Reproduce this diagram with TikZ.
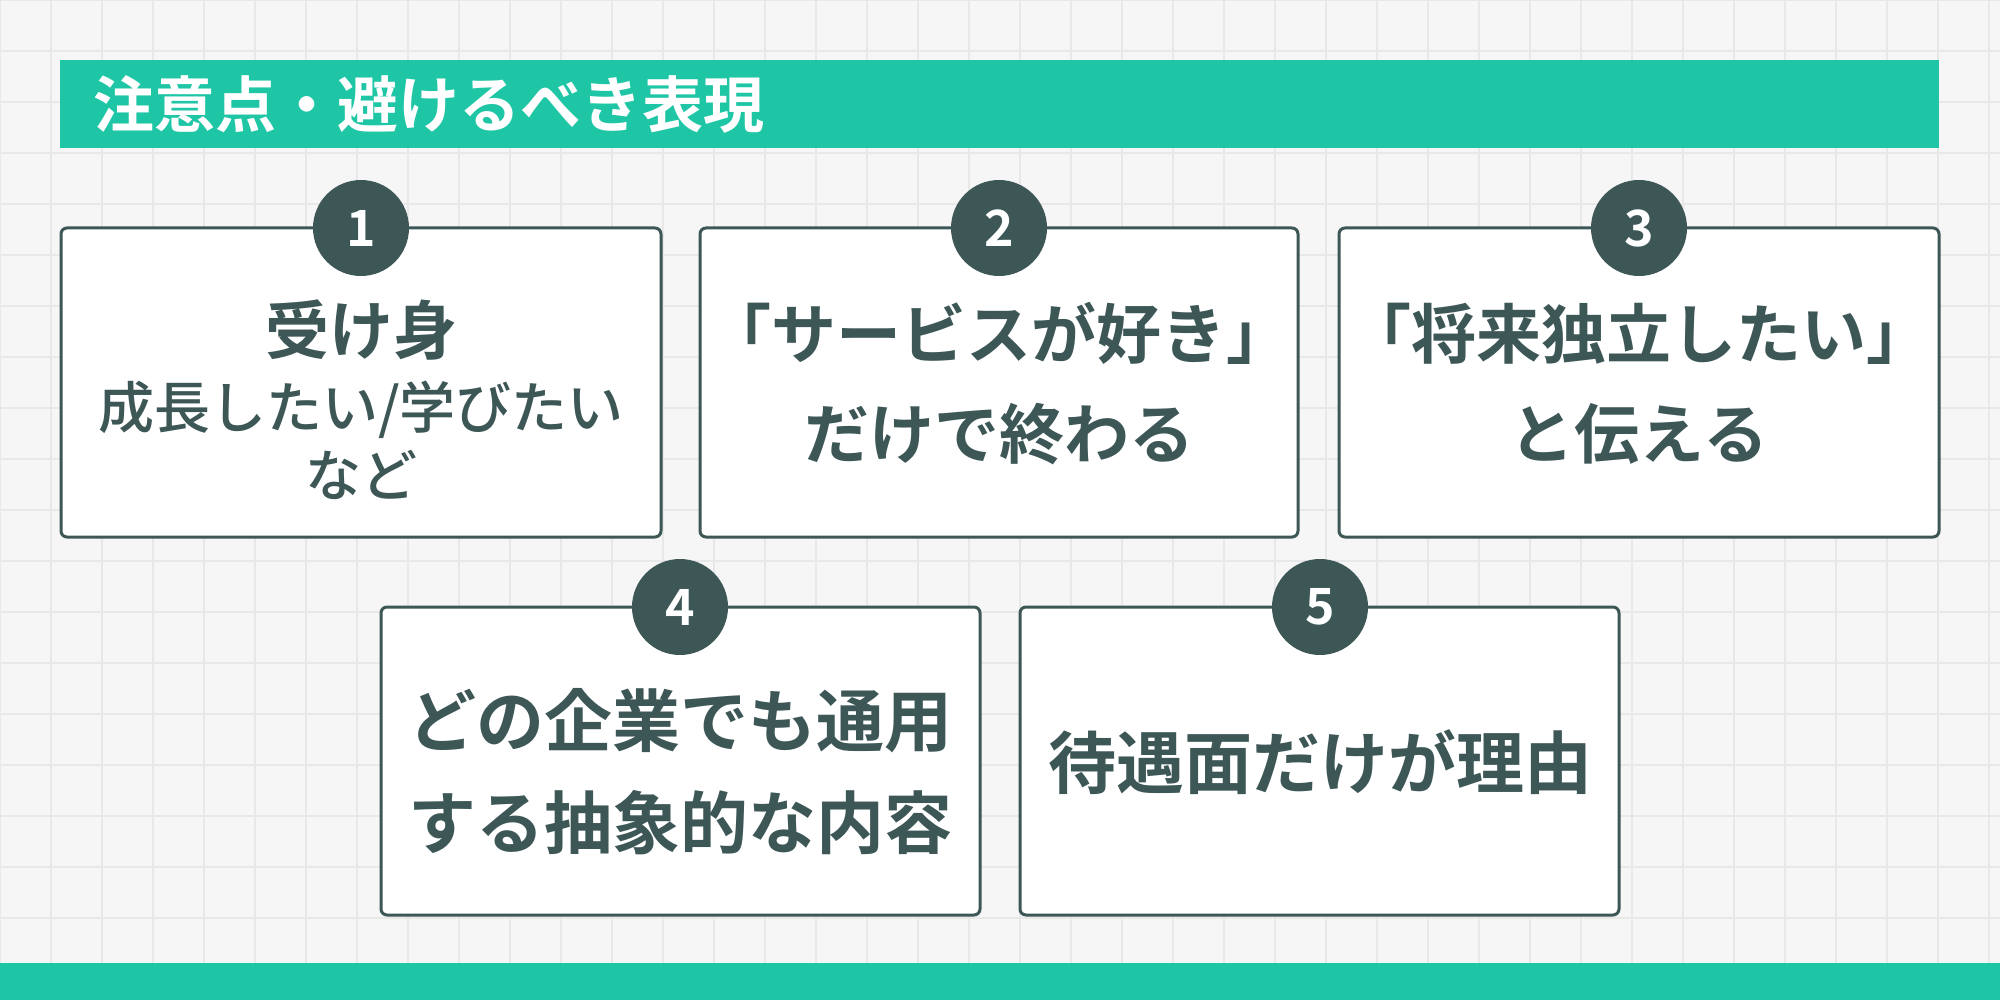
\documentclass[tikz,border=0pt]{standalone}
\usepackage{fontspec}
\newfontfamily\jpb{Noto Sans CJK JP Bold}
\newfontfamily\jpm{Noto Sans CJK JP Medium}
\definecolor{teal}{HTML}{1FC6A6}
\definecolor{slate}{HTML}{3D5656}
\definecolor{bg}{HTML}{F6F6F6}
\definecolor{gridc}{HTML}{E8E8E8}
\begin{document}
\begin{tikzpicture}[x=1pt,y=-1pt,
  card/.style={draw=slate,line width=3pt,rounded corners=6pt,fill=white},
  num/.style={circle,fill=slate,minimum size=96pt,inner sep=0pt,text=white,font=\jpb\fontsize{50}{50}\selectfont},
  txt/.style={text=slate,align=center,font=\jpb\fontsize{65}{100}\selectfont},
  txtl/.style={text=slate,align=center,font=\jpb\fontsize{68}{102}\selectfont}]
\fill[bg] (0,0) rectangle (2000,1000);
\useasboundingbox (0,0) rectangle (2000,1000);
\foreach \i in {0,...,40} {\draw[gridc,line width=1.2pt] (\i*51,0) -- (\i*51,1000);}
\foreach \j in {0,...,20} {\draw[gridc,line width=1.2pt] (0,\j*51) -- (2000,\j*51);}
\fill[teal] (60,60) rectangle (1939,148);
\node[anchor=west,text=white,font=\jpb\fontsize{61}{61}\selectfont] (title) at (90,104) {注意点・避けるべき表現};
\fill[teal] (0,963) rectangle (2000,1000);
\draw[card] (61,228) rectangle (661,537);
\draw[card] (700,228) rectangle (1298,537);
\draw[card] (1339,228) rectangle (1939,537);
\draw[card] (381,607) rectangle (980,915);
\draw[card] (1020,607) rectangle (1619,915);
\node[num] (n1) at (361,228) {1};
\node[num] (n2) at (999,228) {2};
\node[num] (n3) at (1639,228) {3};
\node[num] (n4) at (680,607) {4};
\node[num] (n5) at (1320,607) {5};
\node[text=slate,font=\jpb\fontsize{64}{64}\selectfont] (t1a) at (361,330) {受け身};
\node[text=slate,font=\jpm\fontsize{56}{68}\selectfont,align=center] (t1b) at (361,440) {成長したい/学びたい\\など};
\node[txt] (t2) at (999,384) {「サービスが好き」\\だけで終わる};
\node[txt] (t3) at (1639,384) {「将来独立したい」\\と伝える};
\node[txtl] (t4) at (680,772) {どの企業でも通用\\する抽象的な内容};
\node[txtl] (t5) at (1320,762) {待遇面だけが理由};
\end{tikzpicture}
\end{document}
